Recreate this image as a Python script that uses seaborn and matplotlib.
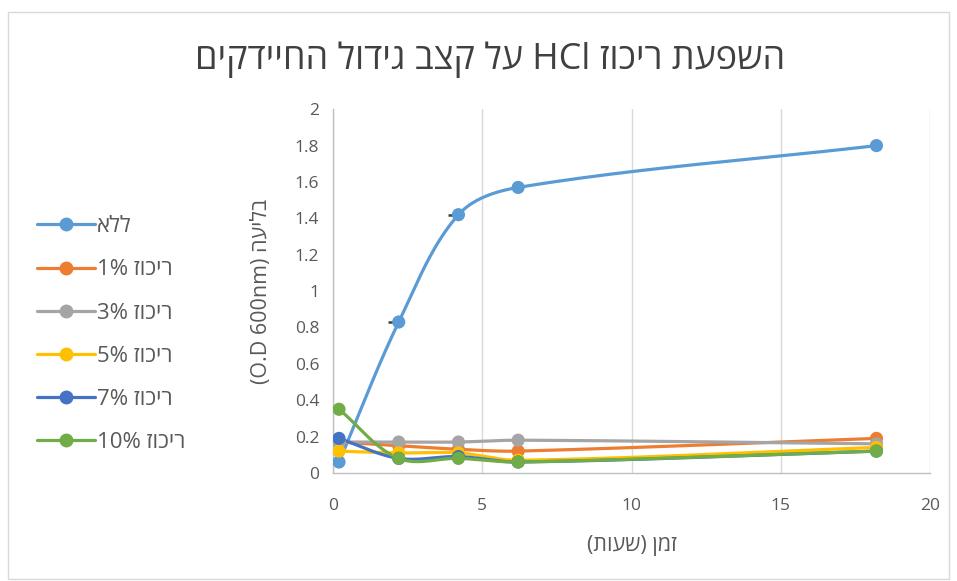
import re
import numpy as np
import pandas as pd
import matplotlib
matplotlib.use("Agg")
import matplotlib.pyplot as plt
from matplotlib.lines import Line2D
from matplotlib.patches import Rectangle
import seaborn as sns

# ---- data -------------------------------------------------------------
hours = [0.2, 2.2, 4.2, 6.2, 18.2]
series_names = ["ללא", "ריכוז 1%", "ריכוז 3%", "ריכוז 5%", "ריכוז 7%", "ריכוז 10%"]
od_none = [0.06, 0.83, 1.42, 1.57, 1.80]
od_1 = [0.17, 0.15, 0.13, 0.12, 0.19]
od_3 = [0.17, 0.17, 0.17, 0.18, 0.16]
od_5 = [0.12, 0.11, 0.11, 0.07, 0.14]
od_7 = [0.19, 0.08, 0.09, 0.06, 0.12]
od_10 = [0.35, 0.08, 0.08, 0.06, 0.12]
# lower-side time error for the untreated series
hours_err_none = [0, 0.36, 0.36, 0, 0]
series_values = [od_none, od_1, od_3, od_5, od_7, od_10]
colors = ["#5B9BD5", "#ED7D31", "#A5A5A5", "#FFC000", "#4472C4", "#70AD47"]
x_ticks = [0, 5, 10, 15, 20]
y_ticks = [0, 0.2, 0.4, 0.6, 0.8, 1, 1.2, 1.4, 1.6, 1.8, 2]

title = "השפעת ריכוז HCl על קצב גידול החיידקים"
x_label = "זמן (שעות)"
y_label = "בליעה (O.D 600nm)"

MIRROR = {"(": ")", ")": "(", "[": "]", "]": "["}
LTR_RUN = r"([A-Za-z0-9%.]+(?: [A-Za-z0-9%.]+)*)"


def visual(text):
    """Reorder a right-to-left string for left-to-right glyph layout."""
    pieces = re.split(LTR_RUN, text)
    out = []
    for i, p in enumerate(pieces):
        if i % 2 == 1:
            out.append(p)
        else:
            out.append("".join(MIRROR.get(c, c) for c in reversed(p)))
    return "".join(reversed(out))


# approximate screen scale (pixels per data unit) so the smoothing is
# done in display-like space, as spreadsheet "smoothed lines" are
SX, SY = 29.85, 182.0


def smooth(xs, ys, n=40):
    """Cubic Bezier through the points with tangents along neighbour chords."""
    P = np.column_stack([np.asarray(xs, float) * SX, np.asarray(ys, float) * SY])
    m = len(P)
    dirs = []
    for i in range(m):
        a = P[max(i - 1, 0)]
        b = P[min(i + 1, m - 1)]
        d = b - a
        nrm = np.hypot(*d)
        dirs.append(d / nrm if nrm > 0 else d)
    t = np.linspace(0, 1, n)[:, None]
    out = []
    for i in range(m - 1):
        p1, p2 = P[i], P[i + 1]
        L = np.hypot(*(p2 - p1)) / 3.0
        c1 = p1 + dirs[i] * L
        c2 = p2 - dirs[i + 1] * L
        b = (1 - t) ** 3 * p1 + 3 * (1 - t) ** 2 * t * c1 + 3 * (1 - t) * t ** 2 * c2 + t ** 3 * p2
        out.append(b if i == 0 else b[1:])
    out = np.vstack(out)
    return out[:, 0] / SX, out[:, 1] / SY


# ---- tables -----------------------------------------------------------
curve_rows, point_rows = [], []
for name, vals in zip(series_names, series_values):
    sx, sy = smooth(hours, vals)
    for k, (a, b) in enumerate(zip(sx, sy)):
        curve_rows.append({"series": name, "order": k, "hours": a, "od": b})
    for a, b in zip(hours, vals):
        point_rows.append({"series": name, "hours": a, "od": b})
curves = pd.DataFrame(curve_rows)
points = pd.DataFrame(point_rows)
palette = dict(zip(series_names, colors))

# ---- figure -----------------------------------------------------------
sns.set_style("white")
plt.rcParams["font.family"] = ["Open Sans", "DejaVu Sans"]

fig = plt.figure(figsize=(9.57, 5.81), dpi=100)
ax = fig.add_axes([0.348, 0.186, 0.624, 0.626])

for name in series_names:
    sns.lineplot(data=curves[curves.series == name], x="hours", y="od",
                 color=palette[name], lw=2.3, sort=False, estimator=None,
                 ax=ax, legend=False, zorder=3)
    sns.scatterplot(data=points[points.series == name], x="hours", y="od",
                    color=palette[name], s=90, edgecolor="none",
                    ax=ax, legend=False, zorder=4)

ax.errorbar(hours, od_none, xerr=[hours_err_none, [0] * len(hours)],
            fmt="none", ecolor="#404040", elinewidth=1.8, capsize=0, zorder=2.5)

ax.set_xlim(0, 20)
ax.set_ylim(0, 2)
ax.set_xticks(x_ticks)
ax.set_yticks(y_ticks)
ax.set_yticklabels([f"{v:g}" for v in y_ticks])
ax.xaxis.grid(True, color="#D9D9D9", lw=1)
ax.yaxis.grid(False)
for side in ["top", "right"]:
    ax.spines[side].set_visible(False)
for side in ["left", "bottom"]:
    ax.spines[side].set_color("#BFBFBF")
    ax.spines[side].set_linewidth(1)
ax.tick_params(axis="both", length=0, labelsize=12.5, colors="#595959")
ax.tick_params(axis="x", pad=18)
ax.tick_params(axis="y", pad=10)

ax.set_xlabel(visual(x_label), fontsize=15.5, color="#595959", labelpad=15)
ax.set_ylabel(visual(y_label), fontsize=15.5, color="#595959", labelpad=16)

fig.text(0.512, 0.897, visual(title), ha="center", va="center",
         fontsize=25.8, color="#404040")

handles = [Line2D([0], [0], color=c, lw=2.3, marker="o", markersize=9)
           for c in colors]
fig.legend(handles, [visual(n) for n in series_names], loc="center left",
           bbox_to_anchor=(0.018, 0.424), frameon=False, fontsize=16,
           labelcolor="#595959", handlelength=2.6, handletextpad=0.1,
           labelspacing=1.0)

fig.patches.append(Rectangle((0.008, 0.004), 0.984, 0.975, transform=fig.transFigure,
                             fill=False, edgecolor="#D9D9D9", lw=1))

fig.savefig("out.png", dpi=100, facecolor="white")
